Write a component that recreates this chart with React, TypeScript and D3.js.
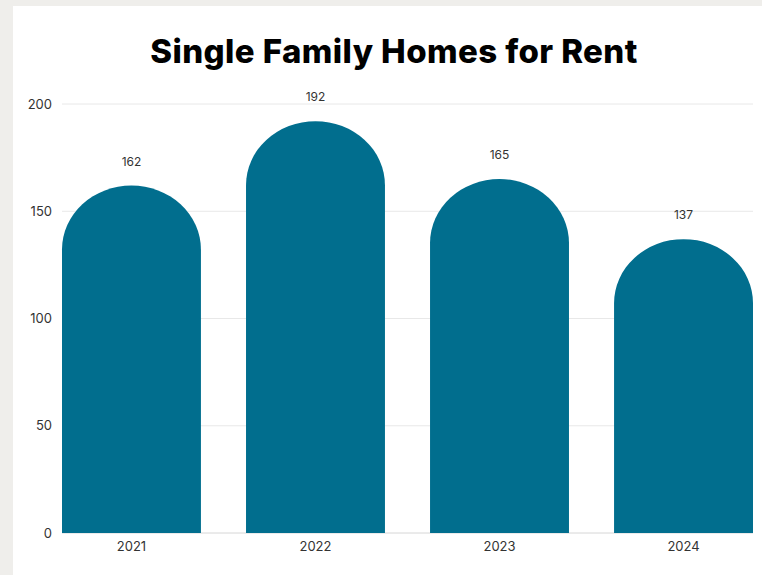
import React from 'react';
import { scaleBand, scaleLinear } from 'd3';

const years = ['2021', '2022', '2023', '2024'];
const homes = [162, 192, 165, 137];
const yTicks = [0, 50, 100, 150, 200];

const width = 762;
const height = 575;
const margin = { top: 104, right: 9, bottom: 42, left: 62 };
const innerWidth = width - margin.left - margin.right;
const innerHeight = height - margin.top - margin.bottom;

const font = 'Inter, "Noto Sans", sans-serif';

const App = () => {
  const xScale = scaleBand<string>()
    .domain(years)
    .range([0, innerWidth])
    .paddingInner(0.245)
    .paddingOuter(0);

  const yScale = scaleLinear().domain([0, 200]).range([innerHeight, 0]);

  const bw = xScale.bandwidth();
  const rx = bw / 2;
  const ry = 64;

  // bar with a half-ellipse on top
  const barPath = (x: number, y: number) => {
    const bottom = innerHeight;
    return `M${x},${bottom} L${x},${y + ry} A${rx},${ry} 0 0 1 ${x + bw},${y + ry} L${x + bw},${bottom} Z`;
  };

  return (
    <svg
      width={width}
      height={height}
      style={{ position: 'absolute', left: 0, top: 0 }}
    >
      <rect x={0} y={0} width={width} height={height} fill="#efeeeb" />
      <rect x={13} y={6} width={width - 13} height={height - 6} fill="#ffffff" />
      <text
        x={394}
        y={63}
        textAnchor="middle"
        fontFamily={font}
        fontWeight={800}
        fontSize={33}
        fill="#000"
        letterSpacing={0.4}
      >
        Single Family Homes for Rent
      </text>
      <g transform={`translate(${margin.left}, ${margin.top})`}>
        {yTicks.map(t => (
          <g key={t}>
            <line
              x1={0}
              x2={innerWidth}
              y1={yScale(t)}
              y2={yScale(t)}
              stroke={t === 0 ? '#d6d6d6' : '#e8e8e8'}
              strokeWidth={1}
            />
            <text
              x={-10}
              y={yScale(t)}
              dy="0.35em"
              textAnchor="end"
              fontFamily={font}
              fontSize={13}
              fill="#333"
            >
              {t}
            </text>
          </g>
        ))}
        {years.map((yr, i) => {
          const x = xScale(yr) as number;
          const y = yScale(homes[i]);
          return (
            <g key={yr}>
              <path d={barPath(x, y)} fill="#016e8e" />
              <text
                x={x + bw / 2}
                y={y - 24}
                dy="0.35em"
                textAnchor="middle"
                fontFamily={font}
                fontSize={12}
                fill="#333"
              >
                {homes[i]}
              </text>
              <text
                x={x + bw / 2}
                y={innerHeight + 13}
                dy="0.35em"
                textAnchor="middle"
                fontFamily={font}
                fontSize={13}
                fill="#333"
              >
                {yr}
              </text>
            </g>
          );
        })}
      </g>
    </svg>
  );
};

export default App;
